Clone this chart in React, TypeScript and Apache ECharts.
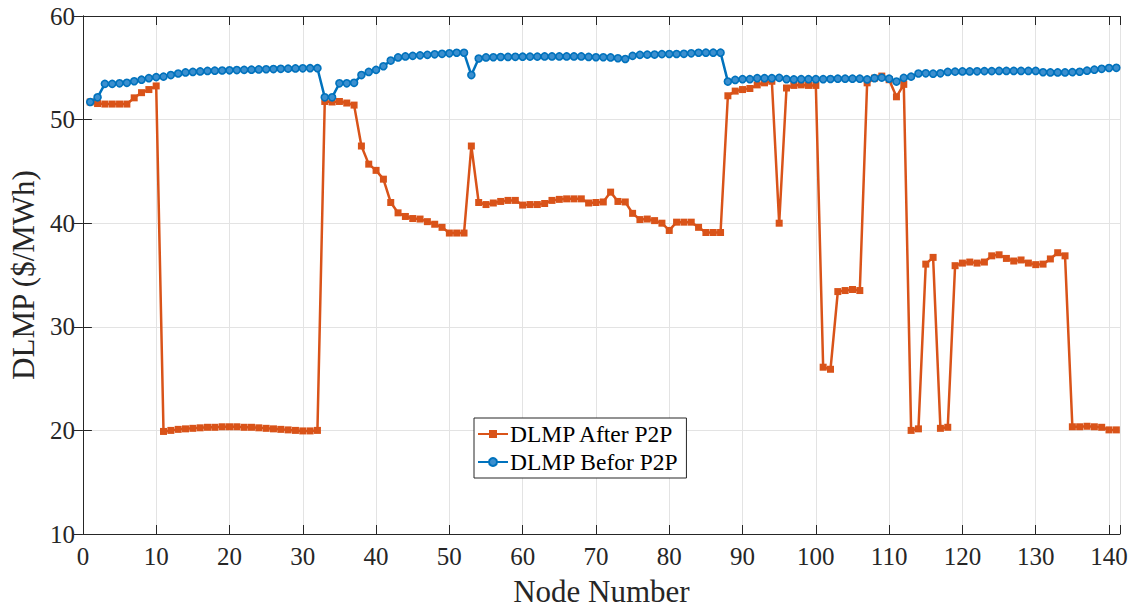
import React, { useEffect, useRef } from "react";
import * as echarts from "echarts";

// DLMP per distribution node, $/MWh (node numbers run 1..141)
const dlmpAfterP2P: number[] = [
  51.7, 51.55, 51.5, 51.5, 51.5, 51.5, 52.1, 52.6, 52.9, 53.25,
  19.9, 20.0, 20.1, 20.15, 20.2, 20.25, 20.3, 20.3, 20.35, 20.35,
  20.35, 20.3, 20.3, 20.25, 20.2, 20.15, 20.1, 20.05, 20.0, 19.95,
  19.95, 20.0, 51.75, 51.7, 51.75, 51.6, 51.4, 47.45, 45.7, 45.1,
  44.25, 42.0, 41.0, 40.65, 40.45, 40.4, 40.15, 39.9, 39.6, 39.05,
  39.05, 39.05, 47.45, 42.0, 41.8, 41.95, 42.1, 42.2, 42.2, 41.75,
  41.8, 41.8, 41.9, 42.2, 42.3, 42.35, 42.35, 42.35, 41.95, 42.0,
  42.05, 43.0, 42.1, 42.05, 40.95, 40.35, 40.4, 40.25, 40.0, 39.3,
  40.1, 40.1, 40.1, 39.6, 39.1, 39.1, 39.1, 52.3, 52.75, 52.9,
  53.0, 53.35, 53.55, 53.7, 40.0, 53.05, 53.3, 53.35, 53.3, 53.3,
  26.1, 25.9, 33.4, 33.5, 33.6, 33.5, 53.55, 54.0, 54.2, 53.85,
  52.2, 53.4, 20.0, 20.15, 36.05, 36.7, 20.2, 20.3, 35.9, 36.15,
  36.25, 36.15, 36.25, 36.85, 36.95, 36.6, 36.35, 36.45, 36.15, 36.0,
  36.05, 36.55, 37.15, 36.85, 20.35, 20.35, 20.4, 20.35, 20.3, 20.05,
  20.05,
];

const dlmpBeforeP2P: number[] = [
  51.7, 52.15, 53.45, 53.45, 53.5, 53.55, 53.7, 53.85, 54.0, 54.1,
  54.15, 54.3, 54.45, 54.55, 54.6, 54.65, 54.7, 54.72, 54.74, 54.76,
  54.78, 54.8, 54.82, 54.84, 54.86, 54.88, 54.9, 54.92, 54.94, 54.95,
  54.96, 54.96, 52.15, 52.15, 53.5, 53.5, 53.55, 54.3, 54.6, 54.8,
  55.15, 55.7, 56.0, 56.1, 56.15, 56.2, 56.25, 56.3, 56.35, 56.4,
  56.45, 56.45, 54.3, 55.9, 56.0, 56.02, 56.04, 56.05, 56.06, 56.07,
  56.08, 56.08, 56.1, 56.1, 56.1, 56.1, 56.1, 56.1, 56.05, 56.02,
  56.02, 56.0, 55.92, 55.85, 56.15, 56.25, 56.27, 56.28, 56.32, 56.33,
  56.33, 56.35, 56.4, 56.45, 56.46, 56.46, 56.46, 53.67, 53.83, 53.9,
  53.9, 54.0, 54.0, 54.0, 54.03, 53.9, 53.88, 53.9, 53.9, 53.9,
  53.9, 53.92, 53.95, 53.95, 53.95, 53.95, 53.88, 54.0, 54.05, 53.95,
  53.67, 54.03, 54.15, 54.45, 54.47, 54.43, 54.47, 54.6, 54.63, 54.65,
  54.65, 54.66, 54.68, 54.68, 54.7, 54.7, 54.7, 54.7, 54.7, 54.7,
  54.57, 54.55, 54.55, 54.55, 54.58, 54.62, 54.72, 54.82, 54.9, 54.98,
  55.0,
];

const seriesNames = ["DLMP After P2P", "DLMP Befor P2P"];
const xAxisTitle = "Node Number";
const yAxisTitle = "DLMP ($/MWh)";

const FONT = "Liberation Serif";
const AXIS_COLOR = "#262626";
const GRID_COLOR = "#e3e3e3";
const ORANGE = "#D95319";
const BLUE = "#0072BD";
const BLUE_FILL = "#3b8fcf";

const toPairs = (vals: number[]) => vals.map((v, i) => [i + 1, v]);

export default function App() {
  const ref = useRef<HTMLDivElement>(null);

  useEffect(() => {
    document.body.style.margin = "0";
    if (!ref.current) return;
    const chart = echarts.init(ref.current, undefined, { renderer: "svg" });

    const xTickFmt = (v: number) => (v % 10 === 0 ? String(v) : "");
    const labelStyle = { fontFamily: FONT, fontSize: 25, color: "#262626" };
    const nameStyle = { fontFamily: FONT, fontSize: 31, color: "#262626" };

    chart.setOption({
      animation: false,
      backgroundColor: "#fff",
      textStyle: { fontFamily: FONT },
      grid: { left: 78, right: 15, top: 16, bottom: 80, containLabel: false },
      legend: {
        orient: "vertical",
        left: 474,
        top: 418,
        backgroundColor: "#fff",
        borderColor: AXIS_COLOR,
        borderWidth: 1,
        borderRadius: 0,
        padding: [4, 8, 4, 3],
        itemGap: 4,
        itemWidth: 30,
        itemHeight: 10,
        textStyle: { fontFamily: FONT, fontSize: 23.5, color: "#000", padding: [0, 0, 0, -3] },
        data: seriesNames,
        z: 10,
      },
      xAxis: [
        {
          type: "value",
          min: 0,
          max: 141.5,
          interval: 10,
          name: xAxisTitle,
          nameLocation: "middle",
          nameGap: 42,
          nameTextStyle: nameStyle,
          axisLine: { show: true, lineStyle: { color: AXIS_COLOR, width: 1 } },
          axisTick: { show: true, inside: true, length: 9, lineStyle: { color: AXIS_COLOR } },
          axisLabel: { ...labelStyle, margin: 10, formatter: xTickFmt },
          splitLine: { show: true, lineStyle: { color: GRID_COLOR, width: 1 } },
        },
        {
          type: "value",
          position: "top",
          min: 0,
          max: 141.5,
          interval: 10,
          axisLine: { show: true, lineStyle: { color: AXIS_COLOR, width: 1 } },
          axisTick: { show: true, inside: true, length: 9, lineStyle: { color: AXIS_COLOR } },
          axisLabel: { show: false },
          splitLine: { show: false },
        },
      ],
      yAxis: [
        {
          type: "value",
          min: 10,
          max: 60,
          interval: 10,
          name: yAxisTitle,
          nameLocation: "middle",
          nameGap: 43,
          nameTextStyle: nameStyle,
          axisLine: { show: true, lineStyle: { color: AXIS_COLOR, width: 1 } },
          axisTick: { show: true, inside: true, length: 9, lineStyle: { color: AXIS_COLOR } },
          axisLabel: { ...labelStyle, margin: 8 },
          splitLine: { show: true, lineStyle: { color: GRID_COLOR, width: 1 } },
        },
        {
          type: "value",
          position: "right",
          min: 10,
          max: 60,
          interval: 10,
          axisLine: { show: true, lineStyle: { color: AXIS_COLOR, width: 1 } },
          axisTick: { show: true, inside: true, length: 9, lineStyle: { color: AXIS_COLOR } },
          axisLabel: { show: false },
          splitLine: { show: false },
        },
      ],
      series: [
        {
          name: seriesNames[0],
          type: "line",
          xAxisIndex: 0,
          yAxisIndex: 0,
          data: toPairs(dlmpAfterP2P),
          symbol: "rect",
          symbolSize: 7,
          showAllSymbol: true,
          lineStyle: { color: ORANGE, width: 2.5 },
          itemStyle: { color: ORANGE, borderColor: ORANGE, borderWidth: 0 },
          z: 2,
        },
        {
          name: seriesNames[1],
          type: "line",
          xAxisIndex: 0,
          yAxisIndex: 0,
          data: toPairs(dlmpBeforeP2P),
          symbol: "circle",
          symbolSize: 7,
          showAllSymbol: true,
          lineStyle: { color: BLUE, width: 2.5 },
          itemStyle: { color: BLUE_FILL, borderColor: BLUE, borderWidth: 1.6 },
          z: 3,
        },
      ],
    });

    return () => chart.dispose();
  }, []);

  return <div ref={ref} style={{ width: 1135, height: 614 }} />;
}
